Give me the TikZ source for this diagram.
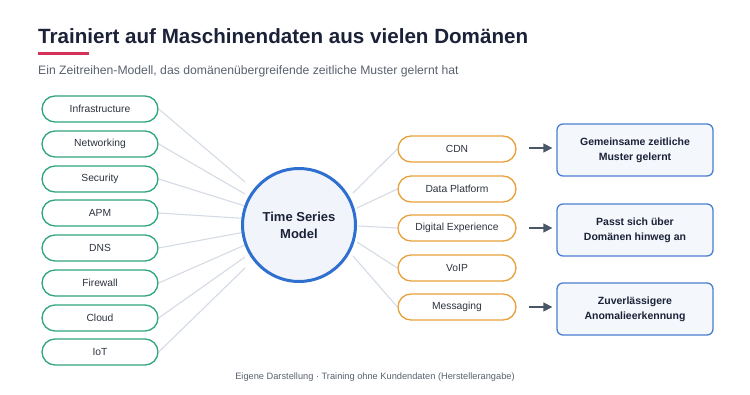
\documentclass[tikz,border=0pt]{standalone}
\usepackage{fontspec}
\setmainfont{Liberation Sans}
\usetikzlibrary{arrows.meta}
\definecolor{titlec}{HTML}{1B2238}
\definecolor{subc}{HTML}{5A6270}
\definecolor{redbar}{HTML}{D6335B}
\definecolor{greenc}{HTML}{2FA57F}
\definecolor{orangec}{HTML}{E9A03B}
\definecolor{bluec}{HTML}{2F6FD0}
\definecolor{circfill}{HTML}{F1F5FB}
\definecolor{linec}{HTML}{D5DBE5}
\definecolor{boxc}{HTML}{4A7FD0}
\definecolor{boxfill}{HTML}{F4F7FC}
\definecolor{arrowc}{HTML}{4A5568}
\definecolor{pilltext}{HTML}{2D3340}
\begin{document}
\begin{tikzpicture}[x=1pt,y=-1pt,
  pillg/.style={draw=greenc,line width=1.3pt,fill=white,rounded corners=13pt,minimum width=116pt,minimum height=26pt,inner sep=0pt,font=\fontsize{10.3}{12}\selectfont,text=pilltext},
  pillo/.style={draw=orangec,line width=1.3pt,fill=white,rounded corners=13pt,minimum width=118pt,minimum height=26pt,inner sep=0pt,font=\fontsize{10.3}{12}\selectfont,text=pilltext},
  outbox/.style={draw=boxc,line width=1.3pt,fill=boxfill,rounded corners=6pt,minimum width=156pt,minimum height=52pt,inner sep=0pt,align=center,font=\bfseries\fontsize{10.5}{15}\selectfont,text=titlec},
  conn/.style={draw=linec,line width=1.1pt},
  outarrow/.style={draw=arrowc,line width=1.4pt,-{Triangle[length=9pt,width=9pt]}}
]
\useasboundingbox (0,0) rectangle (750,394);
\fill[white] (0,0) rectangle (750,394);
% title
\node[anchor=base west,inner sep=0pt,text=titlec,font=\bfseries\fontsize{20.6}{24}\selectfont] (title) at (38,43) {Trainiert auf Maschinendaten aus vielen Domänen};
\fill[redbar] (38,51.5) rectangle (89,54.5);
\node[anchor=base west,inner sep=0pt,text=subc,font=\fontsize{12.2}{14}\selectfont] (sub) at (38,74) {Ein Zeitreihen-Modell, das domänenübergreifende zeitliche Muster gelernt hat};
% left pills
\foreach \n/\t/\y/\ey in {l1/Infrastructure/109/182, l2/Networking/144/194, l3/Security/179/206, l4/APM/213/218.5, l5/DNS/248/232, l6/Firewall/283/245, l7/Cloud/318/257, l8/IoT/352/268}{
  \node[pillg] (\n) at (100,\y) {\t};
  \coordinate (e\n) at (245,\ey);
  \draw[conn] (\n.east) -- (e\n);
}
% right pills
\foreach \n/\t/\y/\sx/\sy in {r1/CDN/149/353/193, r2/Data Platform/189/357/208, r3/Digital Experience/228/358/226, r4/VoIP/268/357/242, r5/Messaging/307/353/256}{
  \node[pillo] (\n) at (457,\y) {\t};
  \coordinate (s\n) at (\sx,\sy);
  \draw[conn] (s\n) -- (\n.west);
}
% circle
\node[circle,draw=bluec,line width=3pt,fill=circfill,minimum size=113pt,inner sep=0pt,align=center,text=titlec,font=\bfseries\fontsize{13}{17}\selectfont] (model) at (299,225) {Time Series\\Model};
% output boxes
\node[outbox] (b1) at (635,150) {Gemeinsame zeitliche\\Muster gelernt};
\node[outbox] (b2) at (635,230) {Passt sich über\\Domänen hinweg an};
\node[outbox] (b3) at (635,309) {Zuverlässigere\\Anomalieerkennung};
\coordinate (a1) at (529,148);
\coordinate (a2) at (529,228);
\coordinate (a3) at (529,307);
\draw[outarrow] (a1) -- ([xshift=-4pt]a1 -| b1.west);
\draw[outarrow] (a2) -- ([xshift=-4pt]a2 -| b2.west);
\draw[outarrow] (a3) -- ([xshift=-4pt]a3 -| b3.west);
% footer
\node[inner sep=0pt,text=subc,font=\fontsize{9.25}{11}\selectfont] (foot) at (375,377) {Eigene Darstellung · Training ohne Kundendaten (Herstellerangabe)};
\end{tikzpicture}
\end{document}
